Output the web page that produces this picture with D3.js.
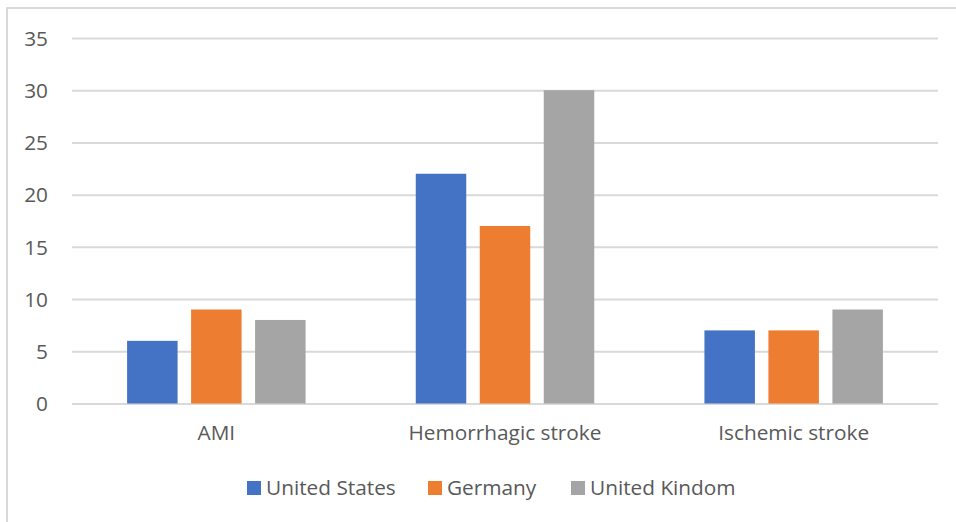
<!DOCTYPE html>
<html>
<head>
<meta charset="utf-8">
<script src="https://cdn.jsdelivr.net/npm/d3@7"></script>
<style>
  html, body { margin: 0; padding: 0; background: #fff; }
  svg { display: block; }
  text { font-family: "Open Sans", "Noto Sans", sans-serif; fill: #595959; }
</style>
</head>
<body>
<svg id="chart" width="956" height="522"></svg>
<script>
// Outcome categories, countries and their values
const categories = ["AMI", "Hemorrhagic stroke", "Ischemic stroke"];
const seriesNames = ["United States", "Germany", "United Kindom"];
const seriesColors = ["#4472C4", "#ED7D31", "#A5A5A5"];
const unitedStates = [6, 22, 7];
const germany = [9, 17, 7];
const unitedKingdom = [8, 30, 9];
const yTicks = [0, 5, 10, 15, 20, 25, 30, 35];

const seriesValues = [unitedStates, germany, unitedKingdom];

const svg = d3.select("#chart");
const W = 956, H = 522;
const plot = { left: 72, right: 938, top: 38, bottom: 403.5 };
const fontSize = "20.8px";

// Chart frame
svg.append("rect")
  .attr("x", 7).attr("y", 8)
  .attr("width", W + 20).attr("height", H + 20)
  .attr("fill", "#fff")
  .attr("stroke", "#D9D9D9").attr("stroke-width", 2);

const y = d3.scaleLinear().domain([0, 35]).range([plot.bottom, plot.top]);

const x0 = d3.scaleBand().domain(categories).range([plot.left, plot.right]).padding(0);
const x1 = d3.scaleBand().domain(seriesNames).range([0, x0.bandwidth()])
  .paddingInner(0.211).paddingOuter(0.861);

// Horizontal gridlines
const yAxis = d3.axisLeft(y).tickValues(yTicks).tickSize(-(plot.right - plot.left)).tickPadding(24);
const gy = svg.append("g").attr("transform", `translate(${plot.left},0)`).call(yAxis);
gy.select(".domain").remove();
gy.selectAll(".tick line").attr("stroke", "#D9D9D9").attr("stroke-width", 2);
gy.selectAll(".tick text")
  .style("font-size", fontSize).attr("fill", "#595959")
  .attr("dy", "0.35em");

// Bars
const groups = svg.append("g").selectAll("g")
  .data(categories)
  .join("g")
  .attr("transform", c => `translate(${x0(c)},0)`);

groups.selectAll("rect")
  .data((c, ci) => seriesNames.map((s, si) => ({ s, si, v: seriesValues[si][ci] })))
  .join("rect")
  .attr("x", d => x1(d.s))
  .attr("width", x1.bandwidth())
  .attr("y", d => y(d.v))
  .attr("height", d => y(0) - y(d.v))
  .attr("fill", d => seriesColors[d.si]);

// Category labels
const xAxis = d3.axisBottom(x0).tickSize(0).tickPadding(22);
const gx = svg.append("g").attr("transform", `translate(0,${plot.bottom})`).call(xAxis);
gx.select(".domain").remove();
gx.selectAll(".tick text").style("font-size", fontSize).attr("fill", "#595959");

// Legend
const legendX = [247, 428, 571];
const legend = svg.append("g");
seriesNames.forEach((name, i) => {
  const g = legend.append("g").attr("transform", `translate(${legendX[i]},481)`);
  g.append("rect").attr("width", 14).attr("height", 14).attr("fill", seriesColors[i]);
  g.append("text").attr("x", 19).attr("y", 14)
    .style("font-size", fontSize).text(name);
});
</script>
</body>
</html>
